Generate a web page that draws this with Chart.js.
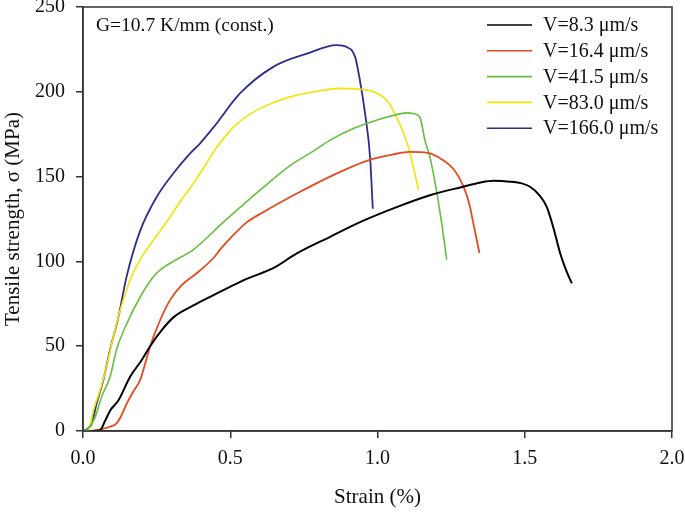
<!DOCTYPE html>
<html>
<head>
<meta charset="utf-8">
<script src="https://cdn.jsdelivr.net/npm/chart.js@4/dist/chart.umd.min.js"></script>
<style>
  html, body { margin: 0; padding: 0; background: #fff; }
  #wrap { width: 685px; height: 512px; }
</style>
</head>
<body>
<div id="wrap"><canvas id="myChart" width="685" height="512"></canvas></div>
<script>
const ctx = document.getElementById('myChart');

// strain (%) / tensile strength (MPa)
const strain83 = [0.03, 0.058, 0.075, 0.092, 0.12, 0.16, 0.2, 0.228, 0.27, 0.307, 0.375, 0.43, 0.499, 0.56, 0.646, 0.726, 0.839, 0.952, 1.065, 1.178, 1.29, 1.35, 1.395, 1.45, 1.49, 1.518, 1.55, 1.575, 1.597, 1.62, 1.64, 1.66]
const stress83 = [0, 0.5, 6, 12, 18, 32, 42, 50, 60, 67, 74, 79, 85, 90, 96, 104.7, 114.5, 124, 132, 139, 144, 146.5, 147.5, 147, 146, 144, 139, 132, 120, 105, 95, 87]

const strain164 = [0.03, 0.06, 0.092, 0.114, 0.13, 0.148, 0.17, 0.194, 0.21, 0.228, 0.261, 0.295, 0.335, 0.386, 0.443, 0.47, 0.499, 0.556, 0.612, 0.726, 0.839, 0.975, 1.05, 1.11, 1.17, 1.22, 1.26, 1.29, 1.31, 1.326, 1.346]
const stress164 = [0, 1, 2.5, 4.5, 9, 16, 23, 30, 39, 50, 65, 77, 86, 93, 102, 108, 113.5, 123, 129, 140, 150, 160, 163, 164.6, 164, 160, 154, 145, 135, 122, 105]

const strain415 = [0.005, 0.018, 0.041, 0.063, 0.092, 0.114, 0.148, 0.194, 0.239, 0.27, 0.307, 0.375, 0.476, 0.601, 0.703, 0.782, 0.839, 0.92, 1.01, 1.076, 1.099, 1.125, 1.144, 1.161, 1.178, 1.2, 1.22, 1.235]
const stress415 = [0, 1.5, 8, 20, 32, 48, 63, 79, 91, 96, 100, 107, 123, 142, 156.5, 165, 171.5, 178.5, 184, 187, 187.6, 187, 185, 171.5, 161.6, 142, 120, 101]

const strain830 = [0.01, 0.02, 0.035, 0.058, 0.08, 0.103, 0.126, 0.16, 0.194, 0.239, 0.295, 0.329, 0.375, 0.42, 0.443, 0.51, 0.56, 0.624, 0.703, 0.8, 0.873, 0.94, 0.986, 1.031, 1.065, 1.099, 1.12, 1.139]
const stress830 = [0, 1, 12, 24, 38, 55.6, 71, 89, 101, 112.5, 126, 135, 146, 158, 164.5, 179, 186, 192, 197, 200.5, 202, 201.5, 200, 195, 185, 170.5, 157, 142]

const strain1660 = [0.0, 0.007, 0.03, 0.046, 0.069, 0.092, 0.12, 0.148, 0.194, 0.25, 0.307, 0.36, 0.397, 0.443, 0.533, 0.646, 0.76, 0.861, 0.895, 0.924, 0.94, 0.958, 0.975, 0.984]
const stress1660 = [0, 0.5, 4.5, 16, 30, 48, 67, 91, 118, 138, 152, 163, 169.5, 179, 199, 214.7, 222.5, 227.5, 226.4, 220.6, 207, 187, 161, 131]

const seriesLabels = ['V=8.3 \u03bcm/s', 'V=16.4 \u03bcm/s', 'V=41.5 \u03bcm/s', 'V=83.0 \u03bcm/s', 'V=166.0 \u03bcm/s']
const xTicks = [0, 0.5, 1.0, 1.5, 2.0]
const yTicks = [0, 50, 100, 150, 200, 250]
const noteText = 'G=10.7 K/mm (const.)'

const colors = ['#000000', '#e8491d', '#66bf3f', '#f2e600', '#2b2f8c']
const widths = [2, 1.8, 1.6, 1.6, 1.8]

function toPoints(xs, ys) {
  return xs.map((x, i) => ({ x: x, y: ys[i] }))
}

const allSeries = [
  toPoints(strain83, stress83),
  toPoints(strain164, stress164),
  toPoints(strain415, stress415),
  toPoints(strain830, stress830),
  toPoints(strain1660, stress1660)
]

const serif = '"Liberation Serif", "Times New Roman", serif'

// box around the plot, note text, legend drawn inside the plot
const framePlugin = {
  id: 'frame',
  afterDraw(chart) {
    const c = chart.ctx
    const a = chart.chartArea
    c.save()
    c.strokeStyle = '#333'
    c.lineWidth = 1.5
    c.strokeRect(a.left, a.top, a.right - a.left, a.bottom - a.top)

    c.fillStyle = '#111'
    c.font = '19.5px ' + serif
    c.textBaseline = 'middle'
    c.textAlign = 'left'
    c.fillText(noteText, 96, 26)

    c.font = '20px ' + serif
    chart.data.datasets.forEach((ds, i) => {
      const y = 25 + i * 25.8
      c.strokeStyle = ds.borderColor
      c.lineWidth = 1.6
      c.beginPath()
      c.moveTo(487, y)
      c.lineTo(532, y)
      c.stroke()
      c.fillStyle = '#111'
      c.fillText(ds.label, 543, y + 1)
    })
    c.restore()
  }
}

new Chart(ctx, {
  type: 'line',
  data: {
    datasets: allSeries.map((pts, i) => ({
      label: seriesLabels[i],
      data: pts,
      borderColor: colors[i],
      borderWidth: widths[i],
      pointRadius: 0,
      cubicInterpolationMode: 'monotone',
      fill: false
    }))
  },
  options: {
    responsive: false,
    animation: false,
    layout: { padding: { top: 7, right: 13, left: 0, bottom: 0 } },
    plugins: {
      legend: false,
      tooltip: { enabled: false }
    },
    scales: {
      x: {
        type: 'linear',
        min: 0,
        max: 2,
        afterFit: s => { s.height = 81; s.paddingLeft = 0; s.paddingRight = 0 },
        afterBuildTicks: s => { s.ticks = xTicks.map(v => ({ value: v })) },
        grid: { drawOnChartArea: false, drawTicks: true, tickLength: 7, color: '#333', lineWidth: 1.5 },
        border: { color: '#333', width: 1.5 },
        ticks: {
          padding: 9,
          color: '#111',
          font: { family: serif, size: 20 },
          callback: v => v.toFixed(1)
        },
        title: {
          display: true,
          text: 'Strain (%)',
          color: '#111',
          font: { family: serif, size: 21 },
          padding: { top: 0, bottom: 2 }
        }
      },
      y: {
        min: 0,
        max: 250,
        afterFit: s => { s.width = 83; s.paddingTop = 0; s.paddingBottom = 0 },
        afterBuildTicks: s => { s.ticks = yTicks.map(v => ({ value: v })) },
        grid: { drawOnChartArea: false, drawTicks: true, tickLength: 7, color: '#333', lineWidth: 1.5 },
        border: { color: '#333', width: 1.5 },
        ticks: {
          padding: 11,
          color: '#111',
          font: { family: serif, size: 20 }
        },
        title: {
          display: true,
          text: 'Tensile strength, \u03c3 (MPa)',
          color: '#111',
          font: { family: serif, size: 21 },
          padding: { top: 1, bottom: 0 }
        }
      }
    }
  },
  plugins: [framePlugin]
});
</script>
</body>
</html>
